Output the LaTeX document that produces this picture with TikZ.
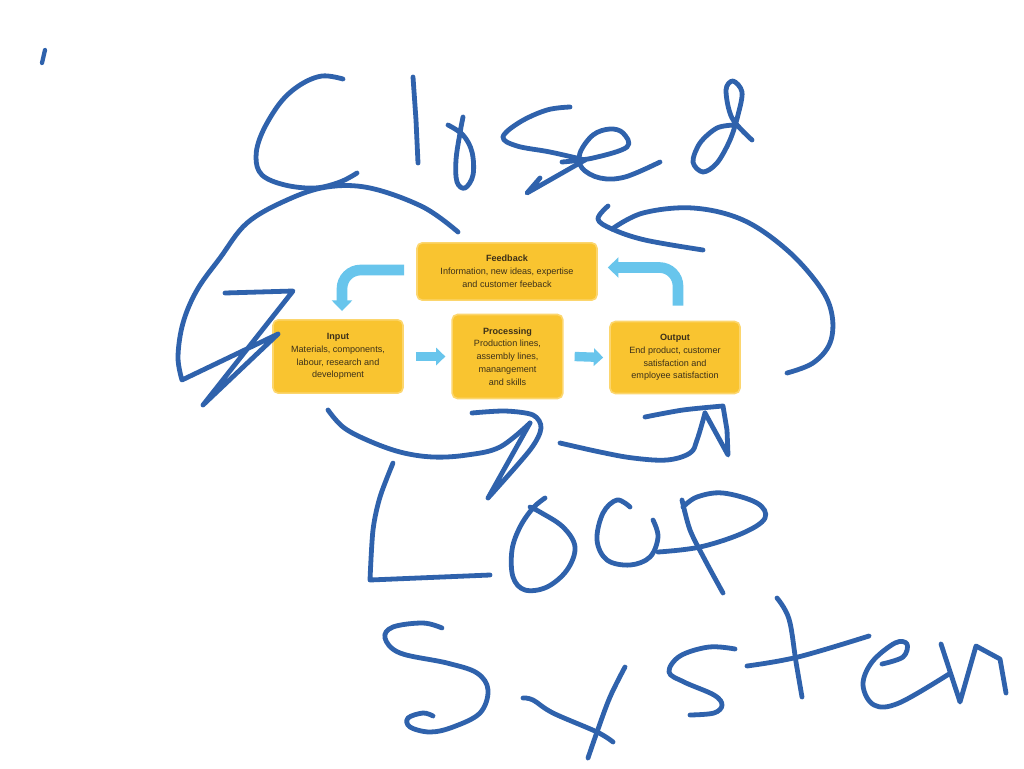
\documentclass[tikz,border=0pt]{standalone}
\usepackage{fontspec}
\setmainfont{Liberation Sans}
\usetikzlibrary{arrows.meta,calc}
\definecolor{boxyellow}{RGB}{249,196,48}
\definecolor{boxedge}{RGB}{252,214,110}
\definecolor{arrowblue}{RGB}{104,197,236}
\definecolor{pen}{RGB}{47,98,172}
\definecolor{boxtext}{RGB}{60,48,25}
\begin{document}
\begin{tikzpicture}[x=0.75pt,y=-0.75pt,
  box/.style={fill=boxyellow,draw=boxedge,line width=1.2pt,rounded corners=4pt,inner sep=0pt,
    align=center,text=boxtext,font=\fontsize{6.8}{9.6}\selectfont},
  barrow/.style={draw=arrowblue,line width=8pt,rounded corners=14pt,
    -{Triangle[width=15pt,length=8pt]}},
  sarrow/.style={draw=arrowblue,line width=7pt,-{Triangle[width=13pt,length=7pt]}},
  ink/.style={draw=pen,line width=3.6pt,line cap=round,line join=round}]
\useasboundingbox (0,0) rectangle (1024,768);
\fill[white] (0,0) rectangle (1024,768);

% boxes
\node[box,minimum width=135pt,minimum height=43pt] (fb) at (507,271.5)
  {\textbf{Feedback}\\Information, new ideas, expertise\\and customer feeback};
\node[box,minimum width=97.5pt,minimum height=55pt] (in) at (338,356.5)
  {\textbf{Input}\\Materials, components,\\labour, research and\\development};
\node[box,minimum width=83pt,minimum height=63pt] (pr) at (507.5,356.5)
  {\textbf{Processing}\\Production lines,\\assembly lines,\\manangement\\and skills};
\node[box,minimum width=97.5pt,minimum height=54pt] (out) at (675,357.5)
  {\textbf{Output}\\End product, customer\\satisfaction and\\employee satisfaction};

% blue arrows
\draw[barrow] ($(fb.west)+(-12,-1.5)$) -| ($(in.north)+(4,-8)$);
\draw[barrow] ($(out.north)+(3,-15)$) |- ($(fb.east)+(10,-4)$);
\draw[sarrow] ($(in.east)+(12,0)$) -- ($(pr.west)+(-6,0)$);
\draw[sarrow] ($(pr.east)+(11,0)$) -- ($(out.west)+(-6,0)$);

% ---- handwriting ----
% tick
\draw[ink,line width=3.2pt] (45,50) -- (42,63);
% C
\draw[ink] plot[smooth,tension=0.6] coordinates {(343,79) (322,76) (300,85) (280,103) (262,133) (256,157) (262,175) (285,185) (315,188) (340,182) (357,173)};
% big left arc with zigzag
\draw[ink] plot[smooth,tension=0.6] coordinates {(458,232) (423,207) (370,188) (327,187) (287,200) (247,223) (220,258) (197,290) (183,323) (178,357) (182,380)} -- (278,334) -- (203,405) -- (293,291) -- (225,293);
% l
\draw[ink] (413,77) -- (416,120) -- (418,163);
% o
\draw[ink] plot[smooth,tension=0.6] coordinates {(448,125) (463,135) (472,152) (473,175) (465,188) (457,182) (456,160) (460,133) (463,117)};
% s
\draw[ink] plot[smooth,tension=0.6] coordinates {(570,107) (547,110) (520,122) (503,137) (517,146) (550,152) (585,160)};
\draw[ink] (585,160) -- (527,193) -- (540,178);
% e
\draw[ink] plot[smooth,tension=0.6] coordinates {(562,162) (593,158) (627,147) (623,133) (610,129) (593,135) (580,153) (582,168) (600,178) (625,177) (660,162)};
% d
\draw[ink] plot[smooth,tension=0.55] coordinates {(735,125) (717,128) (700,143) (693,162) (703,172) (717,163) (730,140) (738,115) (742,92) (733,81) (726,90) (732,118) (752,140)};
% right arc with arrowhead
\draw[ink] plot[smooth,tension=0.6] coordinates {(608,206) (598,219) (612,229) (645,240) (703,250)};
\draw[ink] plot[smooth,tension=0.6] coordinates {(612,229) (643,213) (693,208) (743,220) (787,250) (820,287) (832,315) (830,343) (813,363) (787,373)};
% bottom arrow 1
\draw[ink] plot[smooth,tension=0.6] coordinates {(328,410) (343,427) (367,440) (400,452) (433,457) (467,455) (500,447) (530,423)};
\draw[ink] plot[smooth,tension=0.5] coordinates {(472,413) (505,411) (533,415) (541,428) (530,450) (488,498)} -- (530,423);
% bottom arrow 2
\draw[ink] plot[smooth,tension=0.6] coordinates {(560,443) (600,452) (633,458) (667,460) (690,453) (697,440) (705,413)};
\draw[ink] plot[smooth,tension=0.5] coordinates {(645,417) (683,410) (723,406)} -- (727,430) -- (728,455) -- (705,413);
% L
\draw[ink] plot[smooth,tension=0.5] coordinates {(393,463) (380,497) (373,530) (370,580)} -- (490,575);
% o
\draw[ink] plot[smooth,tension=0.6] coordinates {(545,498) (533,508) (520,527) (512,550) (513,577) (525,590) (547,587) (567,570) (575,547) (563,527) (540,512) (530,507)};
% o (second) + p bowl
\draw[ink] plot[smooth,tension=0.6] coordinates {(630,507) (617,500) (603,513) (597,540) (607,560) (630,565) (650,557) (658,537) (653,520)};
\draw[ink] plot[smooth,tension=0.6] coordinates {(658,552) (700,547) (743,533) (765,518) (757,503) (723,493) (697,497) (683,507)};
% p stem
\draw[ink] plot[smooth,tension=0.5] coordinates {(682,500) (690,530) (705,560) (723,593)};
% S
\draw[ink] plot[smooth,tension=0.6] coordinates {(442,628) (423,623) (393,627) (385,638) (400,653) (447,663) (477,673) (488,690) (480,713) (453,727) (430,732) (410,727) (408,718) (423,713) (433,716)};
% y
\draw[ink] plot[smooth,tension=0.6] coordinates {(523,698) (533,700) (553,713) (597,732) (613,742)};
\draw[ink] plot[smooth,tension=0.6] coordinates {(625,667) (610,697) (597,732) (588,758)};
% s
\draw[ink] plot[smooth,tension=0.6] coordinates {(735,649) (709,647) (680,656) (669,672) (684,682) (714,695) (722,705) (714,713) (690,715)};
% t
\draw[ink] plot[smooth,tension=0.6] coordinates {(777,598) (789,619) (796,662) (802,697)};
\draw[ink] plot[smooth,tension=0.6] coordinates {(747,666) (798,657) (869,636)};
% e
\draw[ink] plot[smooth,tension=0.6] coordinates {(882,664) (903,657) (907,644) (895,643) (872,662) (863,685) (874,705) (899,703) (949,674)};
% m
\draw[ink] (941,644) -- (960,702) -- (976,646) -- (1000,659) -- (1006,693);
\end{tikzpicture}
\end{document}
